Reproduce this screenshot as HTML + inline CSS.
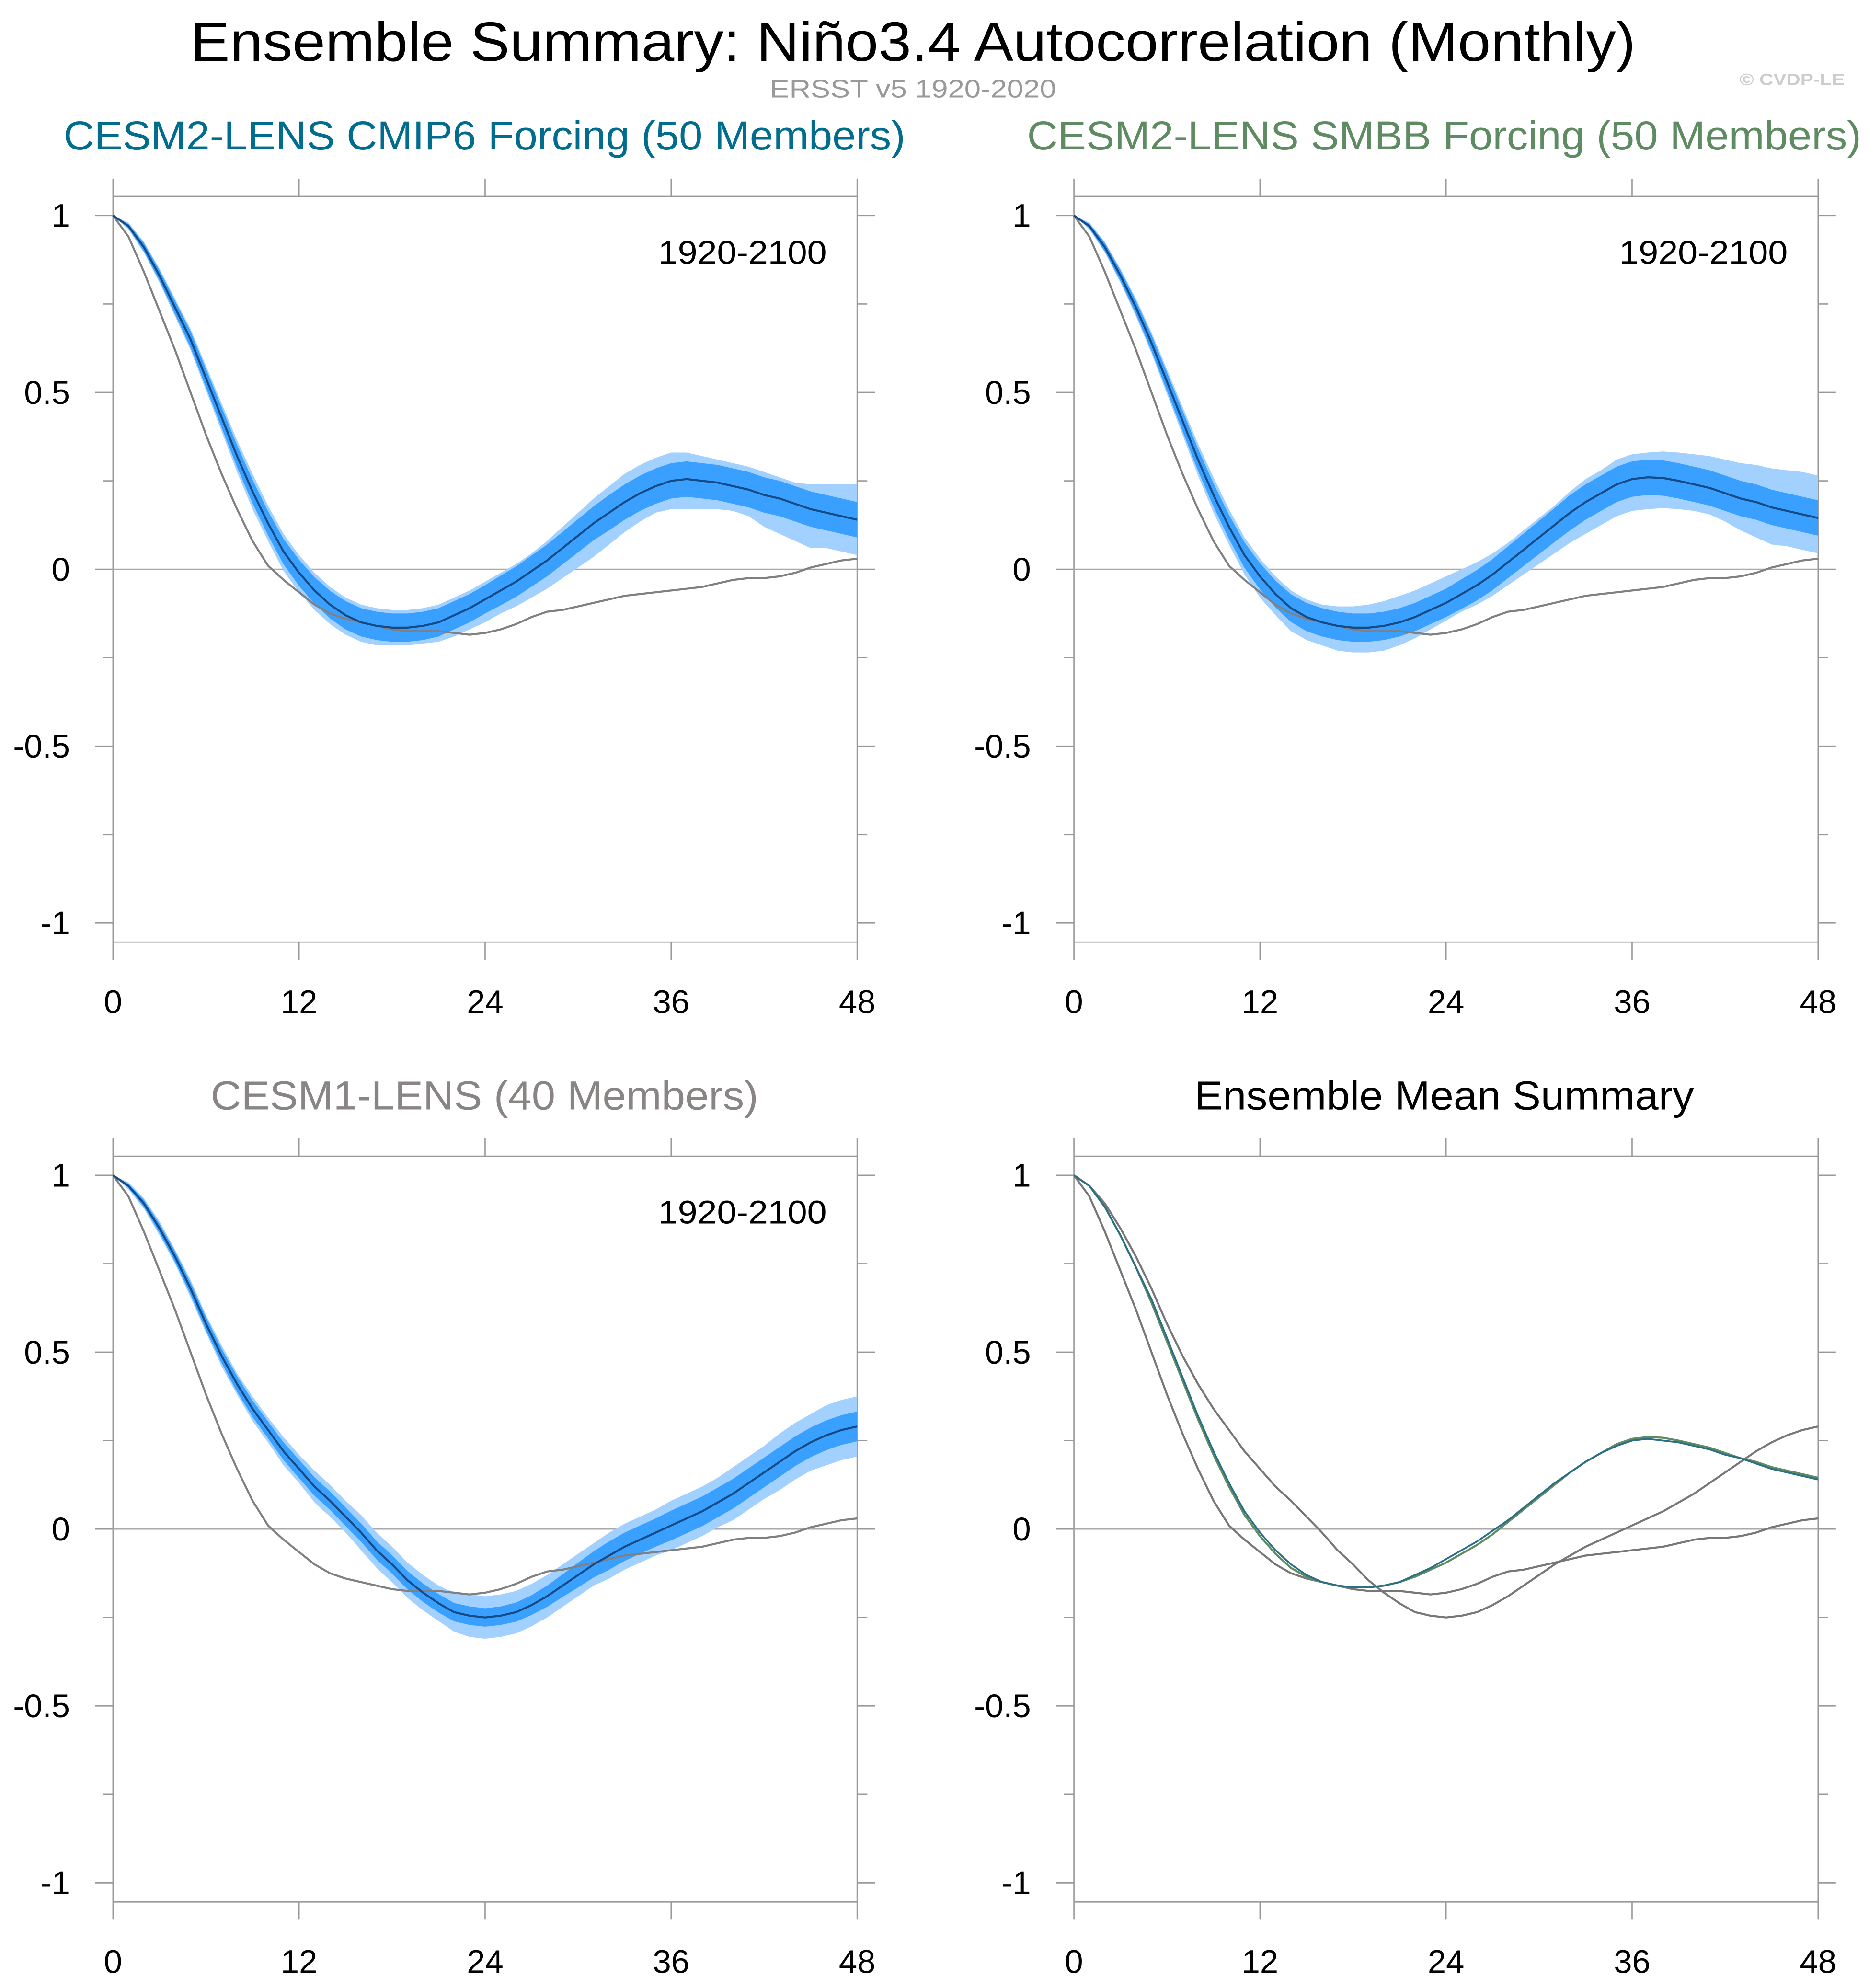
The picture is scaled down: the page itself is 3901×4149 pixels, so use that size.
<!DOCTYPE html>
<html><head><meta charset="utf-8">
<style>
html,body{margin:0;padding:0;background:#fff;}
svg{display:block;}
text{font-family:"Liberation Sans",sans-serif;}
</style></head>
<body>
<svg id="chart" width="3901" height="4149" viewBox="0 0 1474 1568" xmlns="http://www.w3.org/2000/svg">
<text x="150" y="48" font-size="44" textLength="1140" lengthAdjust="spacingAndGlyphs" fill="#000">Ensemble Summary: Niño3.4 Autocorrelation (Monthly)</text>
<text x="607" y="77" font-size="20" textLength="226" lengthAdjust="spacingAndGlyphs" fill="#999">ERSST v5 1920-2020</text>
<text x="1372" y="67" font-size="13" font-weight="bold" textLength="83" lengthAdjust="spacingAndGlyphs" fill="#ccc">© CVDP-LE</text>
<text x="50" y="118" font-size="32" textLength="664" lengthAdjust="spacingAndGlyphs" fill="#006c8e">CESM2-LENS CMIP6 Forcing (50 Members)</text>
<text x="810" y="118" font-size="32" textLength="658" lengthAdjust="spacingAndGlyphs" fill="#5f8b63">CESM2-LENS SMBB Forcing (50 Members)</text>
<text x="166" y="875" font-size="32" textLength="432" lengthAdjust="spacingAndGlyphs" fill="#8a8585">CESM1-LENS (40 Members)</text>
<text x="942" y="875" font-size="32" textLength="394" lengthAdjust="spacingAndGlyphs" fill="#000">Ensemble Mean Summary</text>
</svg>
<script>
const lags = Array.from({length:49},(_,i)=>i);
const xTicks = [0,12,24,36,48];
const yTicks = [1,0.5,0,-0.5,-1];
const yTickLabels = ["1","0.5","0","-0.5","-1"];
const obs = [1,0.94,0.84,0.73,0.62,0.5,0.38,0.27,0.17,0.08,0.01,-0.03,-0.065,-0.1,-0.125,-0.14,-0.15,-0.16,-0.17,-0.175,-0.175,-0.175,-0.18,-0.185,-0.18,-0.17,-0.155,-0.135,-0.12,-0.115,-0.105,-0.095,-0.085,-0.075,-0.07,-0.065,-0.06,-0.055,-0.05,-0.04,-0.03,-0.025,-0.025,-0.02,-0.01,0.005,0.015,0.025,0.03];
const meanCmip6 = [1,0.97,0.91,0.83,0.74,0.65,0.54,0.43,0.32,0.22,0.13,0.05,-0.01,-0.06,-0.1,-0.13,-0.15,-0.16,-0.165,-0.165,-0.16,-0.15,-0.13,-0.11,-0.085,-0.06,-0.035,-0.005,0.025,0.06,0.095,0.13,0.16,0.19,0.215,0.235,0.25,0.255,0.25,0.245,0.235,0.225,0.21,0.2,0.185,0.17,0.16,0.15,0.14];
const meanSmbb = [1,0.97,0.91,0.83,0.74,0.64,0.53,0.42,0.31,0.21,0.12,0.04,-0.02,-0.07,-0.11,-0.135,-0.15,-0.16,-0.165,-0.165,-0.16,-0.15,-0.135,-0.115,-0.095,-0.07,-0.045,-0.015,0.02,0.055,0.09,0.125,0.16,0.19,0.215,0.24,0.255,0.26,0.258,0.25,0.24,0.23,0.215,0.2,0.19,0.175,0.165,0.155,0.145];
const meanCesm1 = [1,0.97,0.92,0.85,0.77,0.68,0.58,0.49,0.41,0.34,0.28,0.22,0.17,0.12,0.08,0.035,-0.01,-0.06,-0.1,-0.145,-0.18,-0.21,-0.235,-0.245,-0.25,-0.245,-0.235,-0.215,-0.19,-0.16,-0.13,-0.1,-0.075,-0.05,-0.03,-0.01,0.01,0.03,0.05,0.075,0.1,0.13,0.16,0.19,0.22,0.245,0.265,0.28,0.29];
const innerHalfCmip6 = [0,0.006,0.012,0.015,0.019,0.023,0.026,0.029,0.031,0.033,0.034,0.036,0.037,0.038,0.039,0.04,0.04,0.04,0.04,0.04,0.04,0.04,0.04,0.04,0.04,0.042,0.043,0.044,0.045,0.046,0.047,0.048,0.05,0.05,0.05,0.05,0.05,0.05,0.05,0.05,0.05,0.05,0.05,0.05,0.05,0.05,0.05,0.05,0.05];
const outerLoCmip6 = [0,0.01,0.015,0.02,0.025,0.03,0.035,0.04,0.045,0.05,0.05,0.055,0.055,0.055,0.055,0.055,0.055,0.055,0.05,0.05,0.05,0.055,0.06,0.06,0.065,0.065,0.07,0.075,0.08,0.085,0.09,0.095,0.09,0.085,0.08,0.075,0.08,0.085,0.08,0.075,0.07,0.075,0.09,0.1,0.105,0.11,0.1,0.1,0.1];
const outerHiCmip6 = [0,0.01,0.015,0.02,0.025,0.03,0.035,0.04,0.045,0.05,0.05,0.05,0.05,0.05,0.05,0.05,0.05,0.05,0.05,0.05,0.05,0.05,0.05,0.05,0.05,0.05,0.05,0.05,0.055,0.06,0.065,0.07,0.075,0.08,0.08,0.08,0.08,0.075,0.07,0.065,0.065,0.065,0.065,0.06,0.06,0.07,0.08,0.09,0.1];
const innerHalfSmbb = innerHalfCmip6;
const outerLoSmbb = [0,0.01,0.015,0.02,0.025,0.03,0.035,0.04,0.045,0.05,0.05,0.055,0.06,0.06,0.065,0.065,0.065,0.07,0.07,0.07,0.07,0.065,0.06,0.055,0.05,0.05,0.055,0.06,0.065,0.07,0.075,0.08,0.085,0.09,0.09,0.09,0.09,0.09,0.085,0.08,0.075,0.075,0.08,0.09,0.1,0.105,0.1,0.1,0.1];
const outerHiSmbb = [0,0.01,0.015,0.02,0.025,0.03,0.035,0.04,0.045,0.05,0.05,0.05,0.05,0.05,0.05,0.05,0.05,0.055,0.06,0.065,0.07,0.075,0.075,0.075,0.075,0.07,0.065,0.06,0.055,0.055,0.055,0.055,0.06,0.065,0.065,0.07,0.07,0.07,0.075,0.08,0.085,0.09,0.095,0.1,0.105,0.11,0.115,0.12,0.12];
const innerHalfCesm1 = [0,0.006,0.01,0.013,0.015,0.017,0.019,0.02,0.022,0.023,0.024,0.025,0.026,0.026,0.026,0.026,0.026,0.026,0.026,0.026,0.026,0.026,0.026,0.026,0.026,0.026,0.027,0.028,0.03,0.032,0.035,0.037,0.04,0.04,0.04,0.04,0.042,0.042,0.042,0.042,0.042,0.042,0.042,0.042,0.042,0.042,0.042,0.042,0.042];
const outerHalfCesm1 = [0,0.01,0.015,0.02,0.02,0.025,0.025,0.03,0.03,0.035,0.035,0.04,0.04,0.045,0.045,0.045,0.05,0.05,0.05,0.05,0.05,0.05,0.055,0.06,0.06,0.06,0.06,0.06,0.06,0.06,0.06,0.06,0.065,0.065,0.065,0.065,0.07,0.07,0.07,0.07,0.075,0.075,0.075,0.08,0.08,0.08,0.085,0.085,0.085];

const NS='http://www.w3.org/2000/svg';
const svg=document.getElementById('chart');
function mk(tag,attrs,parent){const e=document.createElementNS(NS,tag);for(const k in attrs)e.setAttribute(k,attrs[k]);(parent||svg).appendChild(e);return e;}

function makePanel(px0,px1,py1,py0,name){
  const sx=v=>px0+(px1-px0)*v/48;
  const sy=v=>py0-(py0-py1)*v;
  const g=mk('g',{});
  
  
  const top=sy(1.054), bot=sy(-1.054);
  const axisC='#999';
  mk('line',{x1:px0,y1:top,x2:px1,y2:top,stroke:axisC,'stroke-width':1},g);
  mk('line',{x1:px0,y1:bot,x2:px1,y2:bot,stroke:axisC,'stroke-width':1},g);
  mk('line',{x1:px0,y1:top,x2:px0,y2:bot,stroke:axisC,'stroke-width':1},g);
  mk('line',{x1:px1,y1:top,x2:px1,y2:bot,stroke:axisC,'stroke-width':1},g);
  const z=mk('line',{x1:px0,y1:sy(0),x2:px1,y2:sy(0),stroke:'#aaa','stroke-width':1},g);
  
  
  xTicks.forEach(t=>{
    mk('line',{x1:sx(t),y1:bot,x2:sx(t),y2:bot+14,stroke:axisC,'stroke-width':1},g);
    mk('line',{x1:sx(t),y1:top,x2:sx(t),y2:top-14,stroke:axisC,'stroke-width':1},g);
    const tl=mk('text',{x:sx(t),y:bot+56,'font-size':26,'text-anchor':'middle',fill:'#000'},g);
    tl.textContent=t;
    
    
  });
  for(let v=-1;v<=1.001;v+=0.25){
    const maj=Math.abs(v*2-Math.round(v*2))<1e-6;
    const L=maj?14:8;
    mk('line',{x1:px0-L,y1:sy(v),x2:px0,y2:sy(v),stroke:axisC,'stroke-width':1},g);
    mk('line',{x1:px1,y1:sy(v),x2:px1+L,y2:sy(v),stroke:axisC,'stroke-width':1},g);
  }
  yTicks.forEach((t,i)=>{
    const tl=mk('text',{x:px0-34,y:sy(t)+9,'font-size':26,'text-anchor':'end',fill:'#000'},g);
    tl.textContent=yTickLabels[i];
    
    
  });
  return {g,sx,sy};
}
function band(p,lo,hi,fill,name){
  let d='M'+lags.map(i=>p.sx(i)+','+p.sy(hi[i])).join(' L');
  d+=' L'+lags.slice().reverse().map(i=>p.sx(i)+','+p.sy(lo[i])).join(' L')+' Z';
  const e=mk('path',{d,fill,stroke:'none'},p.g);
  
  
}
function line(p,vals,color,w,name){
  const d='M'+lags.map(i=>p.sx(i)+','+p.sy(vals[i])).join(' L');
  const e=mk('path',{d,fill:'none',stroke:color,'stroke-width':w,'stroke-linejoin':'round'},p.g);
  
  
}
function ensPanel(p,mean,inH,oLo,oHi){
  band(p,lags.map(i=>mean[i]-oLo[i]),lags.map(i=>mean[i]+oHi[i]),'#a2d0ff','outer-spread-band');
  band(p,lags.map(i=>mean[i]-inH[i]),lags.map(i=>mean[i]+inH[i]),'#3aa0ff','inner-spread-band');
  line(p,obs,'#808080',1.6,'obs-line');
  line(p,mean,'#154a85',1.6,'ensemble-mean-line');
  const t=mk('text',{x:p.sx(48)-157,y:p.sy(1)+38,'font-size':26,textLength:133,lengthAdjust:'spacingAndGlyphs',fill:'#000'},p.g);
  t.textContent='1920-2100';
  
  
}
const p1=makePanel(89,676,170,449,'panel-cmip6');
ensPanel(p1,meanCmip6,innerHalfCmip6,outerLoCmip6,outerHiCmip6);
const p2=makePanel(847,1434,170,449,'panel-smbb');
ensPanel(p2,meanSmbb,innerHalfSmbb,outerLoSmbb,outerHiSmbb);
const p3=makePanel(89,676,927,1206,'panel-cesm1');
ensPanel(p3,meanCesm1,innerHalfCesm1,outerHalfCesm1,outerHalfCesm1);
const p4=makePanel(847,1434,927,1206,'panel-mean-summary');
line(p4,obs,'#777',1.6,'obs-line');
line(p4,meanCesm1,'#777',1.6,'cesm1-mean-line');
line(p4,meanSmbb,'#5f8b63',1.6,'smbb-mean-line');
line(p4,meanCmip6,'#2a6f85',1.4,'cmip6-mean-line');
</script>
</body></html>
